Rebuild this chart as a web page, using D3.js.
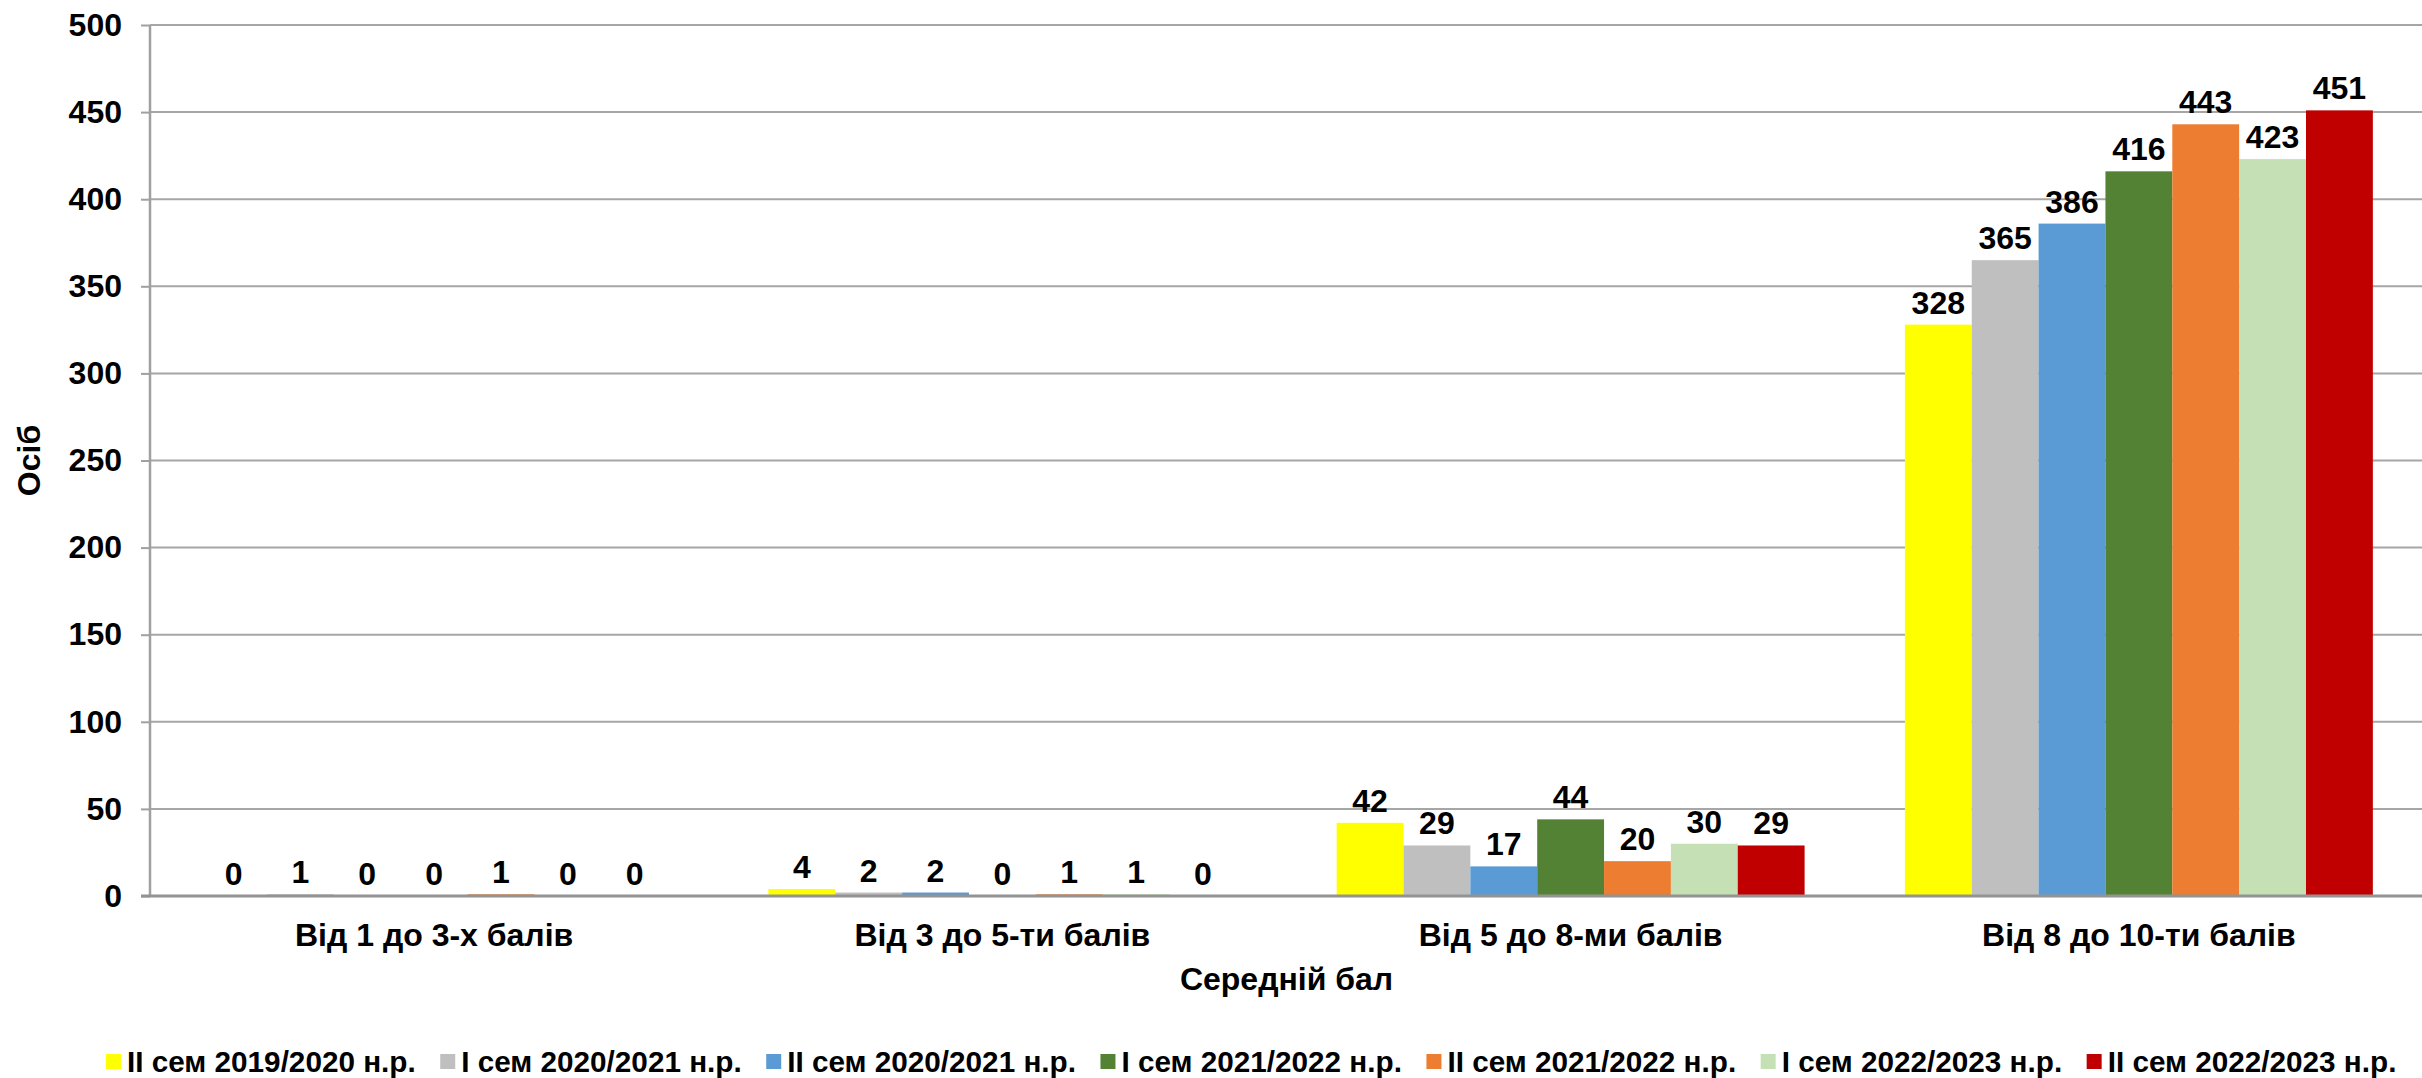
<!DOCTYPE html>
<html>
<head>
<meta charset="utf-8">
<script src="https://cdn.jsdelivr.net/npm/d3@7/dist/d3.min.js"></script>
<style>
  html, body { margin: 0; padding: 0; background: #fff; }
  svg { display: block; font-family: "Liberation Sans", Arial, sans-serif; font-weight: bold; }
</style>
</head>
<body>
<div id="chart"></div>
<script>
// дані
var categories = ['Від 1 до 3-х балів', 'Від 3 до 5-ти балів', 'Від 5 до 8-ми балів', 'Від 8 до 10-ти балів'];
var seriesNames = ['II сем 2019/2020 н.р.', 'I сем 2020/2021 н.р.', 'II сем 2020/2021 н.р.', 'I сем 2021/2022 н.р.',
                   'II сем 2021/2022 н.р.', 'I сем 2022/2023 н.р.', 'II сем 2022/2023 н.р.'];
var seriesColors = ['#ffff00', '#bfbfbf', '#5b9bd5', '#548235', '#ed7d31', '#c5e0b4', '#c00000'];
// значення по серіях, у порядку категорій
var s1 = [0, 4, 42, 328];
var s2 = [1, 2, 29, 365];
var s3 = [0, 2, 17, 386];
var s4 = [0, 0, 44, 416];
var s5 = [1, 1, 20, 443];
var s6 = [0, 1, 30, 423];
var s7 = [0, 0, 29, 451];
var yTicks = [0, 50, 100, 150, 200, 250, 300, 350, 400, 450, 500];

var values = [s1, s2, s3, s4, s5, s6, s7];

var width = 2422, height = 1078;
var plotL = 150, plotR = 2423, plotT = 25, plotB = 896;

var svg = d3.select('#chart').append('svg')
    .attr('width', width)
    .attr('height', height);

var x0 = d3.scaleBand()
    .domain(categories)
    .range([plotL, plotR])
    .paddingInner(0.1765)
    .paddingOuter(0.08825);

var x1 = d3.scaleBand()
    .domain(d3.range(seriesNames.length))
    .range([0, x0.bandwidth()]);

var y = d3.scaleLinear()
    .domain([0, 500])
    .range([plotB, plotT]);

// сітка + вісь Y
var yAxis = svg.append('g')
    .attr('transform', 'translate(' + plotL + ',0)')
    .call(d3.axisLeft(y).tickValues(yTicks).tickSize(9).tickPadding(19));
yAxis.select('.domain').remove();
yAxis.selectAll('.tick line').attr('stroke', '#a0a0a0').attr('stroke-width', 2);
yAxis.selectAll('.tick text')
    .attr('fill', '#000')
    .style('font-size', '32px')
    .style('font-family', '"Liberation Sans", Arial, sans-serif')
    .style('font-weight', 'bold');

svg.append('g')
    .selectAll('line')
    .data(yTicks.filter(function(d) { return d > 0; }))
    .enter()
    .append('line')
    .attr('x1', plotL)
    .attr('x2', width)
    .attr('y1', function(d) { return y(d); })
    .attr('y2', function(d) { return y(d); })
    .attr('stroke', '#a6a6a6')
    .attr('stroke-width', 2);

// стовпці
var groups = svg.append('g')
    .selectAll('g')
    .data(categories)
    .enter()
    .append('g')
    .attr('transform', function(d) { return 'translate(' + x0(d) + ',0)'; });

groups.selectAll('rect')
    .data(function(d, ci) { return values.map(function(s, si) { return { si: si, v: s[ci] }; }); })
    .enter()
    .append('rect')
    .attr('x', function(d) { return x1(d.si); })
    .attr('width', x1.bandwidth())
    .attr('y', function(d) { return y(d.v); })
    .attr('height', function(d) { return y(0) - y(d.v); })
    .attr('fill', function(d) { return seriesColors[d.si]; });

groups.selectAll('text')
    .data(function(d, ci) { return values.map(function(s, si) { return { si: si, v: s[ci] }; }); })
    .enter()
    .append('text')
    .attr('x', function(d) { return x1(d.si) + x1.bandwidth() / 2; })
    .attr('y', function(d) { return y(d.v) - 11; })
    .attr('text-anchor', 'middle')
    .style('font-size', '32px')
    .text(function(d) { return d.v; });

// осі
svg.append('line')
    .attr('x1', plotL).attr('x2', plotL)
    .attr('y1', plotT).attr('y2', plotB)
    .attr('stroke', '#a0a0a0').attr('stroke-width', 2.5);
svg.append('line')
    .attr('x1', plotL - 9).attr('x2', width)
    .attr('y1', plotB).attr('y2', plotB)
    .attr('stroke', '#939393').attr('stroke-width', 3);

// підписи категорій
svg.append('g')
    .selectAll('text')
    .data(categories)
    .enter()
    .append('text')
    .attr('x', function(d) { return x0(d) + x0.bandwidth() / 2; })
    .attr('y', 946)
    .attr('text-anchor', 'middle')
    .style('font-size', '32px')
    .text(function(d) { return d; });

// назви осей
svg.append('text')
    .attr('x', (plotL + plotR) / 2)
    .attr('y', 990)
    .attr('text-anchor', 'middle')
    .style('font-size', '32px')
    .text('Середній бал');

svg.append('text')
    .attr('transform', 'translate(40,' + (plotT + plotB) / 2 + ') rotate(-90)')
    .attr('text-anchor', 'middle')
    .style('font-size', '32px')
    .text('Осіб');

// легенда
var legend = svg.append('g');
var lx = 106;
seriesNames.forEach(function(name, i) {
    legend.append('rect')
        .attr('x', lx).attr('y', 1054)
        .attr('width', 15).attr('height', 15)
        .attr('fill', seriesColors[i]);
    var t = legend.append('text')
        .attr('x', lx + 21)
        .attr('y', 1072)
        .style('font-size', '29.7px')
        .text(name);
    lx += 21 + t.node().getComputedTextLength() + 24.5;
});
</script>
</body>
</html>
